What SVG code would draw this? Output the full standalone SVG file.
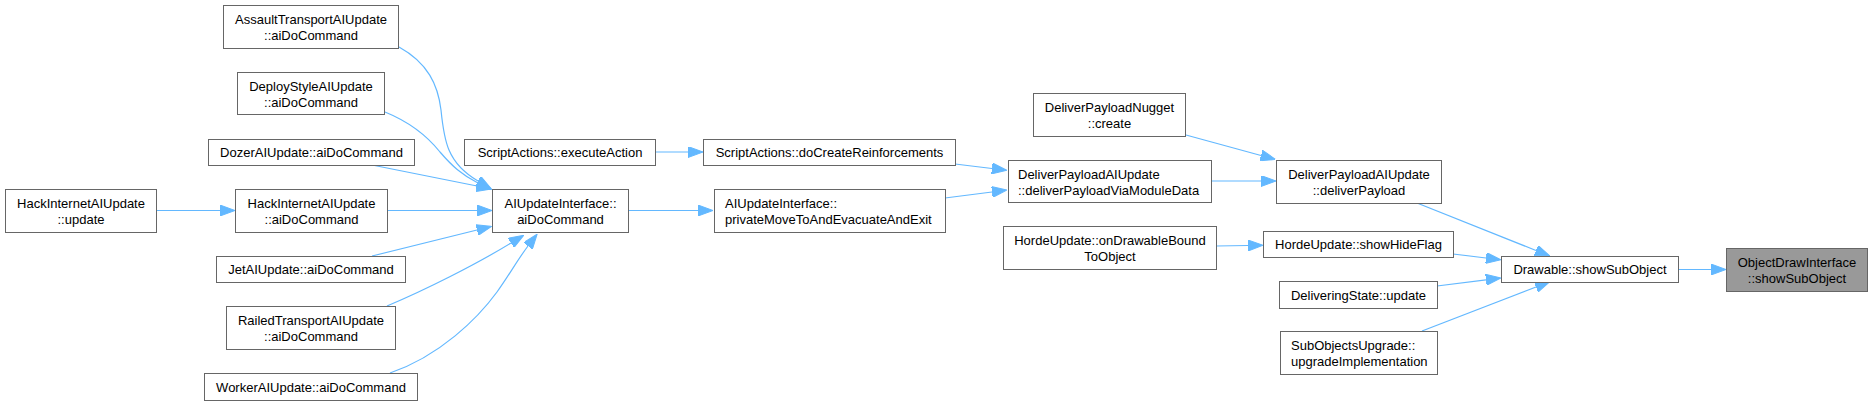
<svg xmlns="http://www.w3.org/2000/svg" width="1872" height="405" viewBox="0 0 1872 405">
<style>
.node rect{fill:#ffffff;stroke:#666666;stroke-width:1}
.node.root rect{fill:#999999}
text{font-family:"Liberation Sans",Arial,Helvetica,sans-serif;font-size:13px;fill:#000000}
.c{text-anchor:middle}
.l{text-anchor:start}
.edges path{fill:none;stroke:#63b8ff;stroke-width:1.2;marker-end:url(#ah)}
</style>
<defs>
<marker id="ah" markerUnits="userSpaceOnUse" markerWidth="15" markerHeight="11" refX="0" refY="5.5" orient="auto">
<path d="M0,0 L15,5.5 L0,11 z" fill="#63b8ff" stroke="#63b8ff" stroke-width="1"/>
</marker>
</defs>
<rect width="1872" height="405" fill="#ffffff"/>
<g class="edges" id="edges">
<path d="M156,210.5 L220,210.5"/>
<path d="M399,47 C428,63 438,85 441,110 C444,140 447,163 478,181"/>
<path d="M385,112 C412,123 428,137 440,152 C452,166 462,175 478,183"/>
<path d="M372,165 L477,186"/>
<path d="M387,210.5 L477,210.5"/>
<path d="M372,256 L477,230"/>
<path d="M387,306 C425,290 475,265 511,243"/>
<path d="M390,373 C440,356 478,318 497,292 C508,277 518,259 528,246"/>
<path d="M628,210.5 L698,210.5"/>
<path d="M655,152 L688,152"/>
<path d="M955,164 L992,168.5"/>
<path d="M945,198 L992,192"/>
<path d="M1186,135 L1261,155.5"/>
<path d="M1211,181 L1261,181"/>
<path d="M1216,246 L1248,245.5"/>
<path d="M1417,203 L1536,250.5"/>
<path d="M1453,254 L1486,258"/>
<path d="M1437,286 L1486,279.8"/>
<path d="M1422,331 L1536,287"/>
<path d="M1678,269.5 L1711,269.5"/>
</g>
<g class="node root" id="n_objectdraw">
<rect x="1726.5" y="248.5" width="141" height="43"/>
<text class="c" x="1797" y="266.5">ObjectDrawInterface</text>
<text class="c" x="1797" y="282.5">::showSubObject</text>
</g>
<g class="node" id="n_drawable">
<rect x="1501.5" y="256.5" width="177" height="26"/>
<text class="c" x="1590" y="274">Drawable::showSubObject</text>
</g>
<g class="node" id="n_deliverpayload">
<rect x="1276.5" y="160.5" width="165" height="43"/>
<text class="c" x="1359" y="178.5">DeliverPayloadAIUpdate</text>
<text class="c" x="1359" y="194.5">::deliverPayload</text>
</g>
<g class="node" id="n_showhideflag">
<rect x="1263.5" y="231.5" width="190" height="26"/>
<text class="c" x="1358.5" y="249">HordeUpdate::showHideFlag</text>
</g>
<g class="node" id="n_deliveringstate">
<rect x="1279.5" y="281.5" width="158" height="27"/>
<text class="c" x="1358.5" y="299.5">DeliveringState::update</text>
</g>
<g class="node" id="n_subobjects">
<rect x="1280.5" y="331.5" width="157" height="43"/>
<text class="l" x="1291" y="349.5">SubObjectsUpgrade::</text>
<text class="l" x="1291" y="365.5">upgradeImplementation</text>
</g>
<g class="node" id="n_nugget">
<rect x="1033.5" y="93.5" width="152" height="43"/>
<text class="c" x="1109.5" y="111.5">DeliverPayloadNugget</text>
<text class="c" x="1109.5" y="127.5">::create</text>
</g>
<g class="node" id="n_via">
<rect x="1008.5" y="160.5" width="203" height="42"/>
<text class="l" x="1018" y="178.5">DeliverPayloadAIUpdate</text>
<text class="l" x="1018" y="194.5">::deliverPayloadViaModuleData</text>
</g>
<g class="node" id="n_horde">
<rect x="1003.5" y="226.5" width="213" height="43"/>
<text class="c" x="1110" y="244.5">HordeUpdate::onDrawableBound</text>
<text class="c" x="1110" y="260.5">ToObject</text>
</g>
<g class="node" id="n_createreinf">
<rect x="703.5" y="139.5" width="252" height="26"/>
<text class="c" x="829.5" y="157">ScriptActions::doCreateReinforcements</text>
</g>
<g class="node" id="n_privatemove">
<rect x="714.5" y="189.5" width="231" height="43"/>
<text class="l" x="725" y="207.5">AIUpdateInterface::</text>
<text class="l" x="725" y="223.5">privateMoveToAndEvacuateAndExit</text>
</g>
<g class="node" id="n_executeaction">
<rect x="464.5" y="139.5" width="191" height="26"/>
<text class="c" x="560" y="157">ScriptActions::executeAction</text>
</g>
<g class="node" id="n_aiupdate">
<rect x="492.5" y="189.5" width="136" height="43"/>
<text class="c" x="560.5" y="207.5">AIUpdateInterface::</text>
<text class="c" x="560.5" y="223.5">aiDoCommand</text>
</g>
<g class="node" id="n_assault">
<rect x="223.5" y="5.5" width="175" height="43"/>
<text class="c" x="311" y="23.5">AssaultTransportAIUpdate</text>
<text class="c" x="311" y="39.5">::aiDoCommand</text>
</g>
<g class="node" id="n_deploy">
<rect x="237.5" y="72.5" width="147" height="42"/>
<text class="c" x="311" y="90.5">DeployStyleAIUpdate</text>
<text class="c" x="311" y="106.5">::aiDoCommand</text>
</g>
<g class="node" id="n_dozer">
<rect x="208.5" y="139.5" width="206" height="26"/>
<text class="c" x="311.5" y="157">DozerAIUpdate::aiDoCommand</text>
</g>
<g class="node" id="n_hackcmd">
<rect x="235.5" y="189.5" width="152" height="43"/>
<text class="c" x="311.5" y="207.5">HackInternetAIUpdate</text>
<text class="c" x="311.5" y="223.5">::aiDoCommand</text>
</g>
<g class="node" id="n_hackupdate">
<rect x="5.5" y="189.5" width="151" height="43"/>
<text class="c" x="81" y="207.5">HackInternetAIUpdate</text>
<text class="c" x="81" y="223.5">::update</text>
</g>
<g class="node" id="n_jet">
<rect x="216.5" y="256.5" width="189" height="26"/>
<text class="c" x="311" y="274">JetAIUpdate::aiDoCommand</text>
</g>
<g class="node" id="n_railed">
<rect x="226.5" y="306.5" width="169" height="43"/>
<text class="c" x="311" y="324.5">RailedTransportAIUpdate</text>
<text class="c" x="311" y="340.5">::aiDoCommand</text>
</g>
<g class="node" id="n_worker">
<rect x="204.5" y="373.5" width="213" height="27"/>
<text class="c" x="311" y="391.5">WorkerAIUpdate::aiDoCommand</text>
</g>
</svg>
